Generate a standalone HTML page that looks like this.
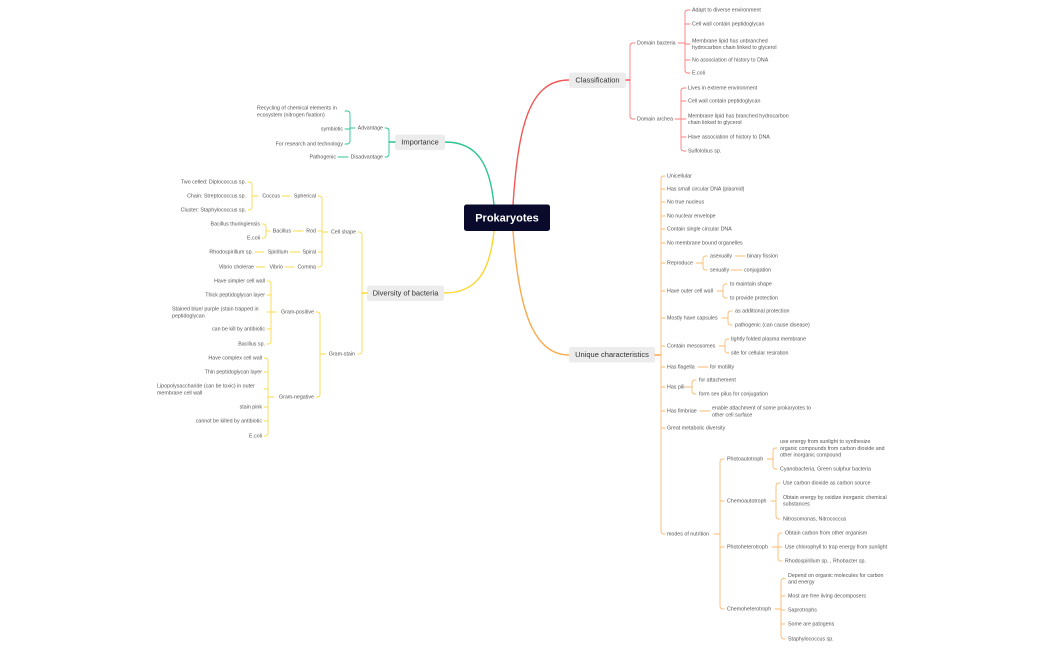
<!DOCTYPE html>
<html><head><meta charset="utf-8"><style>
html,body{margin:0;padding:0;background:#fff;}
svg{display:block;}
text{font-family:"Liberation Sans",sans-serif;font-size:5.3px;fill:#555;dominant-baseline:middle;}
.e{text-anchor:end;}
.b{font-size:7.5px;fill:#333;text-anchor:middle;}
path{fill:none;stroke-linecap:round;}
.r{stroke:#f25656;stroke-width:1.4;} .r2{stroke:#f87c7c;stroke-width:0.9;}
.g{stroke:#2cc48f;stroke-width:1.4;} .g2{stroke:#2cc48f;stroke-width:0.9;}
.y{stroke:#f9d72c;stroke-width:1.4;} .y2{stroke:#fadb4a;stroke-width:0.9;}
.o{stroke:#f9a94b;stroke-width:1.4;} .o2{stroke:#fbbb72;stroke-width:0.9;}
</style></head><body>
<svg width="1050" height="650" viewBox="0 0 1050 650" xmlns="http://www.w3.org/2000/svg">
<!-- main curves -->
<path class="r" d="M513 205 C518 130 528 80 569 80"/>
<path class="g" d="M494 205 C490 165 478 142 445 142"/>
<path class="y" d="M494 231 C490 270 478 293 444 293"/>
<path class="o" d="M513 231 C518 300 530 355 569 355"/>

<!-- central -->
<rect x="464" y="204.5" width="86" height="26.5" rx="2.5" fill="#0a0b2c"/>
<text x="507" y="218.5" style="font-size:11px;fill:#fff;text-anchor:middle;font-weight:bold">Prokaryotes</text>

<!-- Classification -->
<rect x="569" y="72.5" width="57" height="15.5" rx="2.5" fill="#ececec"/>
<text class="b" x="597.5" y="80.5">Classification</text>
<path class="r" d="M626 80 H630"/>
<path class="r2" d="M635 43 H633 Q630 43 630 46 V116 Q630 119 633 119 H635"/>
<text x="637" y="43">Domain bacteria</text>
<text x="637" y="119">Domain archea</text>
<path class="r2" d="M678 43 H685 M690 10 H688 Q685 10 685 13 V70 Q685 73 688 73 H690 M685 24 H690 M685 44 H690 M685 60 H690"/>
<text x="692" y="10">Adapt to diverse environment</text>
<text x="692" y="24">Cell wall contain peptidoglycan</text>
<text x="692" y="41">Membrane lipid has unbranched</text>
<text x="692" y="47.5">hydrocarbon chain linked to glycerol</text>
<text x="692" y="60">No association of history to DNA</text>
<text x="692" y="73">E.coli</text>
<path class="r2" d="M675 119 H681 M686 88 H684 Q681 88 681 91 V148 Q681 151 684 151 H686 M681 101 H686 M681 119 H686 M681 137 H686"/>
<text x="688" y="88">Lives in extreme environment</text>
<text x="688" y="101">Cell wall contain peptidoglycan</text>
<text x="688" y="116">Membrane lipid has branched hydrocarbon</text>
<text x="688" y="122.5">chain linked to glycerol</text>
<text x="688" y="137">Have association of history to DNA</text>
<text x="688" y="151">Sulfolobus sp.</text>

<!-- Importance -->
<rect x="395" y="134.5" width="50" height="15.5" rx="2.5" fill="#ececec"/>
<text class="b" x="420" y="142.5">Importance</text>
<path class="g" d="M395 142 H389"/>
<path class="g2" d="M385 128 H386 Q389 128 389 131 V154 Q389 157 386 157 H385"/>
<text class="e" x="383" y="128">Advantage</text>
<text class="e" x="383" y="157">Disadvantage</text>
<path class="g2" d="M355 128 H350 M345 111 H347 Q350 111 350 114 V141 Q350 144 347 144 H345 M350 129 H345"/>
<text x="257" y="108">Recycling of chemical elements in</text>
<text x="257" y="115">ecosystem (nitrogen fixation)</text>
<text class="e" x="343" y="129">symbiotic</text>
<text class="e" x="343" y="144">For research and technology</text>
<path class="g2" d="M348 157 H338"/>
<text class="e" x="336" y="157">Pathogenic</text>

<!-- Diversity -->
<rect x="367" y="285.5" width="77" height="15.5" rx="2.5" fill="#ececec"/>
<text class="b" x="405.5" y="293.5">Diversity of bacteria</text>
<path class="y" d="M367 293 H362"/>
<path class="y2" d="M358 232 H359 Q362 232 362 235 V351 Q362 354 359 354 H358"/>
<text class="e" x="356" y="232">Cell shape</text>
<text class="e" x="355" y="354">Gram-stain</text>
<path class="y2" d="M328 232 H322 M318 196 H319 Q322 196 322 199 V264 Q322 267 319 267 H318 M322 231 H318 M322 252 H318"/>
<text class="e" x="316" y="196">Spherical</text>
<text class="e" x="316" y="231">Rod</text>
<text class="e" x="316" y="252">Spiral</text>
<text class="e" x="316" y="267">Comma</text>
<path class="y2" d="M290 196 H282 M258 196 H252 M248 182 H249 Q252 182 252 185 V207 Q252 210 249 210 H248"/>
<text class="e" x="280" y="196">Coccus</text>
<text class="e" x="246" y="182">Two celled: Diplococcus sp.</text>
<text class="e" x="246" y="196">Chain: Streptococcus sp.</text>
<text class="e" x="246" y="210">Cluster: Staphylococcus sp.</text>
<path class="y2" d="M303 231 H293 M270 231 H266 M262 224 H263 Q266 224 266 227 V235 Q266 238 263 238 H262"/>
<text class="e" x="291" y="231">Bacillus</text>
<text class="e" x="260" y="224">Bacillus thuringiensis</text>
<text class="e" x="260" y="238">E.coli</text>
<path class="y2" d="M300 252 H290 M264 252 H255"/>
<text class="e" x="288" y="252">Spirillum</text>
<text class="e" x="253" y="252">Rhodospirillum sp.</text>
<path class="y2" d="M294 267 H285 M265 267 H256"/>
<text class="e" x="283" y="267">Vibrio</text>
<text class="e" x="254" y="267">Vibrio cholerae</text>
<path class="y2" d="M326 354 H320 M316 312 H317 Q320 312 320 315 V394 Q320 397 317 397 H316"/>
<text class="e" x="314" y="312">Gram-positive</text>
<text class="e" x="314" y="397">Gram-negative</text>
<path class="y2" d="M276 312 H271 M267 281 H268 Q271 281 271 284 V341 Q271 344 268 344 H267 M271 295 H267 M271 312 H267 M271 329 H267"/>
<text class="e" x="265" y="281">Have simpler cell wall</text>
<text class="e" x="265" y="295">Thick peptidoglycan layer</text>
<text x="172" y="309">Stained blue/ purple (stain trapped in</text>
<text x="172" y="316">peptidoglycan</text>
<text class="e" x="265" y="329">can be kill by antibiotic</text>
<text class="e" x="265" y="344">Bacillus sp.</text>
<path class="y2" d="M274 397 H268 M264 358 H265 Q268 358 268 361 V433 Q268 436 265 436 H264 M268 372 H264 M268 389 H264 M268 407 H264 M268 421 H264"/>
<text class="e" x="262" y="358">Have complex cell wall</text>
<text class="e" x="262" y="372">Thin peptidoglycan layer</text>
<text x="157" y="386">Lipopolysaccharide (can be toxic) in outer</text>
<text x="157" y="393">membrane cell wall</text>
<text class="e" x="262" y="407">stain pink</text>
<text class="e" x="262" y="421">cannot be killed by antibiotic</text>
<text class="e" x="262" y="436">E.coli</text>

<!-- Unique characteristics -->
<rect x="569" y="347" width="86" height="15.5" rx="2.5" fill="#ececec"/>
<text class="b" x="612" y="355">Unique characteristics</text>
<path class="o" d="M655 355 H661"/>
<path class="o2" d="M665 176 H664 Q661 176 661 179 V531 Q661 534 664 534 H665 M661 189 H665 M661 202 H665 M661 216 H665 M661 229 H665 M661 243 H665 M661 263 H665 M661 291 H665 M661 318 H665 M661 346 H665 M661 367 H665 M661 387 H665 M661 411 H665 M661 428 H665"/>
<text x="667" y="176">Unicellular</text>
<text x="667" y="189">Has small circular DNA (plasmid)</text>
<text x="667" y="202">No true nucleus</text>
<text x="667" y="216">No nuclear envelope</text>
<text x="667" y="229">Contain single circular DNA</text>
<text x="667" y="243">No membrane bound organelles</text>
<text x="667" y="263">Reproduce</text>
<text x="667" y="291">Have outer cell wall</text>
<text x="667" y="318">Mostly have capsules</text>
<text x="667" y="346">Contain mesosomes</text>
<text x="667" y="367">Has flagella</text>
<text x="667" y="387">Has pili</text>
<text x="667" y="411">Has fimbriae</text>
<text x="667" y="428">Great metabolic diversity</text>
<text x="667" y="534">modes of nutrition</text>

<path class="o2" d="M696 263 H703 M707 256 H706 Q703 256 703 259 V267 Q703 270 706 270 H707 M735 256 H745 M731 270 H742"/>
<text x="710" y="256">asexually</text><text x="747" y="256">binary fission</text>
<text x="710" y="270">sexually</text><text x="744" y="270">conjugation</text>
<path class="o2" d="M717 291 H723 M727 284 H726 Q723 284 723 287 V295 Q723 298 726 298 H727"/>
<text x="730" y="284">to maintain shape</text>
<text x="730" y="298">to provide protection</text>
<path class="o2" d="M722 318 H728 M732 311 H731 Q728 311 728 314 V322 Q728 325 731 325 H732"/>
<text x="735" y="311">as additional protection</text>
<text x="735" y="325">pathogenic (can cause disease)</text>
<path class="o2" d="M719 346 H725 M729 339 H728 Q725 339 725 342 V350 Q725 353 728 353 H729"/>
<text x="731" y="339">tightly folded plasma membrane</text>
<text x="731" y="353">site for cellular resiration</text>
<path class="o2" d="M698 367 H708"/>
<text x="710" y="367">for motility</text>
<path class="o2" d="M685 387 H692 M696 380 H695 Q692 380 692 383 V391 Q692 394 695 394 H696"/>
<text x="699" y="380">for attachement</text>
<text x="699" y="394">form sex pilus for conjugation</text>
<path class="o2" d="M700 411 H710"/>
<text x="712" y="408">enable attachment of some prokaryotes to</text>
<text x="712" y="415">other cell surface</text>

<path class="o2" d="M714 534 H720 M724 459 H723 Q720 459 720 462 V606 Q720 609 723 609 H724 M720 501 H724 M720 547 H724"/>
<text x="727" y="459">Photoautotroph</text>
<text x="727" y="501">Chemoautotroph</text>
<text x="727" y="547">Photoheterotroph</text>
<text x="727" y="609">Chemoheterotroph</text>
<path class="o2" d="M767 459 H773 M777 448 H776 Q773 448 773 451 V466 Q773 469 776 469 H777"/>
<text x="780" y="441.5">use energy from sunlight to synthesize</text>
<text x="780" y="448.5">organic compounds from carbon dioxide and</text>
<text x="780" y="455">other inorganic compound</text>
<text x="780" y="469">Cyanobacteria, Green sulphur bacteria</text>
<path class="o2" d="M771 501 H776 M780 483 H779 Q776 483 776 486 V516 Q776 519 779 519 H780"/>
<text x="783" y="483">Use carbon dioxide as carbon source</text>
<text x="783" y="497.5">Obtain energy by oxidize inorganic chemical</text>
<text x="783" y="504">substances</text>
<text x="783" y="519">Nitrosomonas, Nitrococcus</text>
<path class="o2" d="M772 547 H778 M782 533 H781 Q778 533 778 536 V558 Q778 561 781 561 H782 M778 547 H782"/>
<text x="785" y="533">Obtain carbon from other organism</text>
<text x="785" y="547">Use chlorophyll to trap energy from sunlight</text>
<text x="785" y="561">Rhodospirillum sp. ,  Rhobacter sp.</text>
<path class="o2" d="M775 609 H781 M785 578.5 H784 Q781 578.5 781 581.5 V636 Q781 639 784 639 H785 M781 596 H785 M781 610 H785 M781 624 H785"/>
<text x="788" y="575.5">Depend on organic molecules for carbon</text>
<text x="788" y="582">and energy</text>
<text x="788" y="596">Most are free living decomposers</text>
<text x="788" y="610">Saprotrophs</text>
<text x="788" y="624">Some are patogens</text>
<text x="788" y="639">Staphylococcus sp.</text>
</svg>
</body></html>
